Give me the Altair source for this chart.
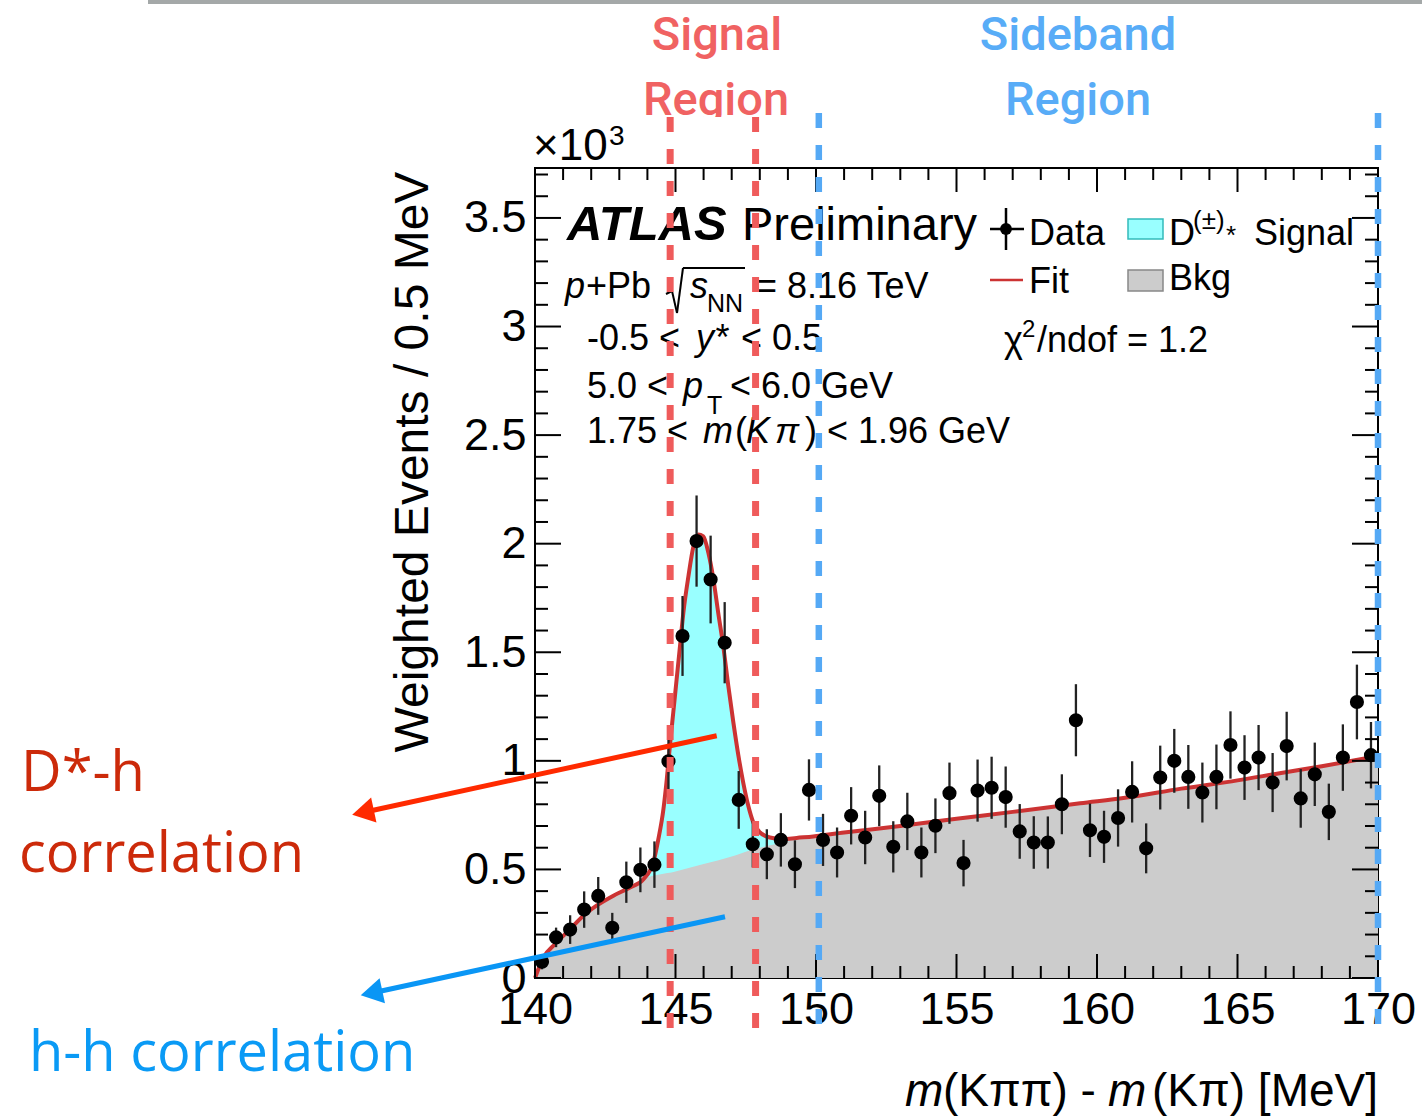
import altair as alt
import pandas as pd

# ---------------- data ----------------
data_x = [140.25, 140.75, 141.25, 141.75, 142.25, 142.75, 143.25, 143.75, 144.25, 144.75,
          145.25, 145.75, 146.25, 146.75, 147.25, 147.75, 148.25, 148.75, 149.25, 149.75,
          150.25, 150.75, 151.25, 151.75, 152.25, 152.75, 153.25, 153.75, 154.25, 154.75,
          155.25, 155.75, 156.25, 156.75, 157.25, 157.75, 158.25, 158.75, 159.25, 159.75,
          160.25, 160.75, 161.25, 161.75, 162.25, 162.75, 163.25, 163.75, 164.25, 164.75,
          165.25, 165.75, 166.25, 166.75, 167.25, 167.75, 168.25, 168.75, 169.25, 169.75]
data_y = [0.075, 0.187, 0.223, 0.315, 0.378, 0.231, 0.441, 0.498, 0.522, 0.998,
          1.575, 2.012, 1.835, 1.544, 0.82, 0.616, 0.570, 0.636, 0.524, 0.866,
          0.636, 0.578, 0.747, 0.647, 0.839, 0.604, 0.721, 0.578, 0.701, 0.851,
          0.529, 0.863, 0.876, 0.833, 0.675, 0.624, 0.624, 0.800, 1.187, 0.680,
          0.650, 0.737, 0.857, 0.597, 0.923, 1.000, 0.926, 0.854, 0.926, 1.073,
          0.969, 1.015, 0.900, 1.068, 0.827, 0.938, 0.765, 1.015, 1.271, 1.026]
data_err = [0.035, 0.045, 0.066, 0.084, 0.087, 0.069, 0.095, 0.103, 0.107, 0.14,
            0.184, 0.21, 0.202, 0.187, 0.133, 0.107, 0.115, 0.123, 0.11, 0.141,
            0.12, 0.115, 0.132, 0.123, 0.14, 0.118, 0.132, 0.115, 0.126, 0.141,
            0.107, 0.143, 0.143, 0.141, 0.126, 0.121, 0.12, 0.138, 0.166, 0.123,
            0.12, 0.132, 0.141, 0.115, 0.147, 0.147, 0.147, 0.138, 0.149, 0.155,
            0.149, 0.15, 0.136, 0.158, 0.135, 0.146, 0.13, 0.153, 0.172, 0.153]

fit_x = [140.0, 140.3, 140.71, 141.25, 141.72, 142.19, 142.79, 143.38, 143.86, 144.21,
         144.39, 144.57, 144.69, 144.80, 144.92, 145.04, 145.16, 145.28, 145.46, 145.64,
         145.81, 145.99, 146.17, 146.35, 146.52, 146.70, 146.88, 147.06, 147.24, 147.41,
         147.59, 147.77, 148.01, 148.36, 148.84, 149.31, 149.9, 151.0, 153.0, 155.0,
         157.0, 159.4, 161.0, 163.0, 165.0, 166.5, 168.0, 170.0]
fit_y = [0.0, 0.095, 0.156, 0.225, 0.287, 0.333, 0.379, 0.417, 0.455, 0.532,
         0.639, 0.777, 0.915, 1.068, 1.222, 1.375, 1.528, 1.682, 1.850, 1.988,
         2.042, 2.034, 1.958, 1.835, 1.682, 1.528, 1.345, 1.176, 1.023, 0.900,
         0.793, 0.716, 0.670, 0.647, 0.639, 0.645, 0.652, 0.670, 0.700, 0.733,
         0.765, 0.805, 0.830, 0.872, 0.910, 0.943, 0.975, 1.022]

bkg_x = [140.0, 140.3, 140.71, 141.25, 141.72, 142.19, 142.79, 143.38, 143.86, 145.0,
         146.0, 147.0, 147.7, 148.5, 149.3, 149.9, 151.0, 153.0, 155.0, 157.0,
         159.4, 161.0, 163.0, 165.0, 166.5, 168.0, 170.0]
bkg_y = [0.0, 0.095, 0.156, 0.225, 0.287, 0.333, 0.379, 0.417, 0.455, 0.490,
         0.525, 0.560, 0.590, 0.615, 0.638, 0.652, 0.670, 0.700, 0.733, 0.765,
         0.805, 0.830, 0.872, 0.910, 0.943, 0.975, 1.022]

signal_lines = [144.81, 147.85]
sideband_lines = [150.1, 170.0]

x_major = [140, 145, 150, 155, 160, 165, 170]
x_minor = [141, 142, 143, 144, 146, 147, 148, 149, 151, 152, 153, 154, 156, 157, 158, 159,
           161, 162, 163, 164, 166, 167, 168, 169]
y_major = [0, 0.5, 1, 1.5, 2, 2.5, 3, 3.5]
y_minor = [0.1, 0.2, 0.3, 0.4, 0.6, 0.7, 0.8, 0.9, 1.1, 1.2, 1.3, 1.4, 1.6, 1.7, 1.8, 1.9,
           2.1, 2.2, 2.3, 2.4, 2.6, 2.7, 2.8, 2.9, 3.1, 3.2, 3.3, 3.4, 3.6, 3.7]

# ---------------- layout ----------------
OX, OY = 535, 168
W, H = 843, 810
HF = "Liberation Sans, Arial, Helvetica, sans-serif"

xs = alt.Scale(domain=[140, 170], nice=False, zero=False)
ys = alt.Scale(domain=[0, 3.73], nice=False, zero=False)
xaxis = alt.Axis(values=x_major, ticks=False, domain=False, grid=False, title=None,
                 labelFont=HF, labelFontSize=45, labelColor="black", labelPadding=9,
                 labelFlush=False, labelOverlap=False)
yaxis = alt.Axis(values=y_major, ticks=False, domain=False, grid=False, title=None,
                 labelFont=HF, labelFontSize=45, labelColor="black", labelPadding=9,
                 format="~g", labelFlush=False, labelOverlap=False)


def X(field="x"):
    return alt.X(f"{field}:Q", scale=xs, axis=xaxis)


def Y(field="y"):
    return alt.Y(f"{field}:Q", scale=ys, axis=yaxis)


one = pd.DataFrame({"a": [0]})


def txt(s, x, y, size=36, color="black", font=HF, style="normal", weight="normal",
        align="left", angle=0):
    return alt.Chart(pd.DataFrame({"t": [s]})).mark_text(
        align=align, baseline="alphabetic", fontSize=size, font=font,
        fontStyle=style, fontWeight=weight, color=color, angle=angle
    ).encode(x=alt.value(x - OX), y=alt.value(y - OY), text="t:N")


def prule(x1, y1, x2, y2, color="black", width=2.0):
    return alt.Chart(one).mark_rule(color=color, strokeWidth=width).encode(
        x=alt.value(x1 - OX), y=alt.value(y1 - OY),
        x2=alt.value(x2 - OX), y2=alt.value(y2 - OY))


def prect(x1, y1, x2, y2, fill, stroke=None, sw=1.5):
    kw = dict(fill=fill)
    if stroke is not None:
        kw.update(stroke=stroke, strokeWidth=sw)
    return alt.Chart(one).mark_rect(**kw).encode(
        x=alt.value(x1 - OX), y=alt.value(y1 - OY),
        x2=alt.value(x2 - OX), y2=alt.value(y2 - OY))


df_data = pd.DataFrame({"x": data_x, "y": data_y, "e": data_err})
df_fit = pd.DataFrame({"x": fit_x, "y": fit_y})
df_bkg = pd.DataFrame({"x": bkg_x, "y": bkg_y})

layers = []
# signal (cyan) under fit, background (gray) on top
layers.append(alt.Chart(df_fit).transform_filter("datum.x >= 143.8 && datum.x <= 150")
              .mark_area(color="#99ffff", interpolate="monotone").encode(x=X(), y=Y()))
layers.append(alt.Chart(df_bkg).mark_area(color="#cccccc", interpolate="monotone")
              .encode(x=X(), y=Y()))
layers.append(alt.Chart(df_fit).mark_line(color="#cc3333", strokeWidth=4,
                                          interpolate="monotone").encode(x=X(), y=Y()))
# data with error bars
layers.append(alt.Chart(df_data).transform_calculate(lo="datum.y - datum.e", hi="datum.y + datum.e")
              .mark_rule(color="#222222", strokeWidth=2.3)
              .encode(x=X(), y=Y("lo"), y2="hi:Q"))
layers.append(alt.Chart(df_data).mark_circle(size=200, color="black", opacity=1)
              .encode(x=X(), y=Y()))

# inward ticks on all four sides
for vals, ln in ((x_major, 24), (x_minor, 12)):
    d = pd.DataFrame({"x": vals})
    layers.append(alt.Chart(d).mark_rule(color="black", strokeWidth=2)
                  .encode(x=X(), y=alt.value(H), y2=alt.value(H - ln)))
    layers.append(alt.Chart(d).mark_rule(color="black", strokeWidth=2)
                  .encode(x=X(), y=alt.value(0), y2=alt.value(ln)))
for vals, ln in ((y_major, 26), (y_minor, 13)):
    d = pd.DataFrame({"y": vals})
    layers.append(alt.Chart(d).mark_rule(color="black", strokeWidth=2)
                  .encode(y=Y(), x=alt.value(0), x2=alt.value(ln)))
    layers.append(alt.Chart(d).mark_rule(color="black", strokeWidth=2)
                  .encode(y=Y(), x=alt.value(W), x2=alt.value(W - ln)))

# ATLAS label and info text
layers += [
    txt("ATLAS", 567, 240, 49, weight="bold", style="italic"),
    txt("Preliminary", 742, 240, 47),
    txt("p", 565, 298, 36, style="italic"),
    txt("+Pb", 586, 298, 36),
    prule(666, 294, 672, 291, width=2),
    prule(672, 291, 677, 313, width=2),
    prule(677, 313, 683, 268, width=2),
    prule(683, 268, 745, 268, width=2),
    txt("s", 690, 298, 36, style="italic"),
    txt("NN", 707, 312, 25),
    txt("= 8.16 TeV", 756, 298, 36),
    txt("-0.5 <", 587, 350, 36),
    txt("y*", 696, 350, 36, style="italic"),
    txt("< 0.5", 741, 350, 36),
    txt("5.0 <", 587, 398, 36),
    txt("p", 683, 398, 36, style="italic"),
    txt("T", 707, 414, 25),
    txt("< 6.0 GeV", 730, 398, 36),
    txt("1.75 <", 587, 443, 36),
    txt("m", 703, 443, 36, style="italic"),
    txt("(", 735, 443, 36),
    txt("K", 746, 443, 36, style="italic"),
    txt("π", 775, 443, 36, style="italic"),
    txt(")", 805, 443, 36),
    txt("< 1.96 GeV", 827, 443, 36),
]

# legend
layers += [
    prule(1006, 208, 1006, 250, width=2.5),
    prule(990, 229, 1024, 229, width=2.5),
    alt.Chart(one).mark_circle(size=140, color="black", opacity=1)
    .encode(x=alt.value(1006 - OX), y=alt.value(229 - OY)),
    txt("Data", 1029, 245, 36),
    prect(1128, 219, 1163, 239, "#99ffff", "#33bbbb"),
    txt("D", 1169, 245, 36),
    txt("(±)", 1193, 229, 26),
    txt("*", 1226, 244, 26),
    txt("Signal", 1254, 245, 36),
    prule(990, 280, 1023, 280, color="#cc3333", width=2.5),
    txt("Fit", 1029, 293, 36),
    prect(1128, 270, 1163, 291, "#cccccc", "#888888"),
    txt("Bkg", 1169, 290, 36),
    txt("χ", 1004, 352, 36),
    txt("2", 1022, 337, 24),
    txt("/ndof = 1.2", 1037, 352, 36),
]

# axis titles and exponent
layers += [
    txt("×10", 533, 160, 44),
    txt("3", 609, 145, 28),
    txt("Weighted Events / 0.5 MeV", 428, 462, 48, align="center", angle=270),
    txt("m", 905, 1106, 46, style="italic"),
    txt("(Kππ) -", 943, 1106, 46),
    txt("m", 1108, 1106, 46, style="italic"),
    txt("(Kπ) [MeV]", 1378, 1106, 46, align="right"),
]

# slide annotations
RF = "Roboto, Liberation Sans, sans-serif"
RED, BLUE = "#f06262", "#58acf7"
layers += [
    prect(148, 0, 1422, 4, "#a4a8a8"),
    txt("Signal", 717, 50, 47, color=RED, font=RF, weight=500, align="center"),
    txt("Region", 716, 115, 47, color=RED, font=RF, weight=500, align="center"),
    prect(640, 117, 795, 135, "white"),
    txt("Sideband", 1078, 50, 47, color=BLUE, font=RF, weight=500, align="center"),
    txt("Region", 1078, 115, 47, color=BLUE, font=RF, weight=500, align="center"),
]
layers.append(alt.Chart(pd.DataFrame({"x": signal_lines}))
              .mark_rule(color="#ef5b5b", strokeWidth=7, strokeDash=[15, 17])
              .encode(x=X(), y=alt.value(117 - OY), y2=alt.value(1030 - OY)))
layers.append(alt.Chart(pd.DataFrame({"x": sideband_lines}))
              .mark_rule(color="#55a9f5", strokeWidth=6.5, strokeDash=[15, 17])
              .encode(x=X(), y=alt.value(113 - OY), y2=alt.value(1028 - OY)))

AF = "Open Sans, Lato, sans-serif"
layers += [
    txt("D*-h", 21, 791, 56, color="#cc2a0a", font=AF),
    txt("correlation", 19, 872, 56, color="#cc2a0a", font=AF),
    txt("h-h correlation", 29, 1071, 56, color="#0a9af5", font=AF),
    prule(716.7, 735.7, 364, 812.2, color="#ff2a00", width=5),
    alt.Chart(one).mark_point(shape="triangle-left", filled=True, size=650, angle=347.9,
                              color="#ff2a00", opacity=1)
    .encode(x=alt.value(363 - OX), y=alt.value(812.4 - OY)),
    prule(725, 916.7, 372, 993, color="#0a96f5", width=5),
    alt.Chart(one).mark_point(shape="triangle-left", filled=True, size=650, angle=347.8,
                              color="#0a96f5", opacity=1)
    .encode(x=alt.value(371.5 - OX), y=alt.value(993 - OY)),
]

chart = alt.layer(*layers).properties(
    width=W, height=H,
    padding={"left": OX, "top": OY, "right": 1422 - OX - W, "bottom": 1117 - OY - H},
    autosize=alt.AutoSizeParams(type="none"),
    background="white",
).configure_view(stroke="black", strokeWidth=2)

chart.save("out.html", embed_options={"renderer": "svg", "actions": False})
